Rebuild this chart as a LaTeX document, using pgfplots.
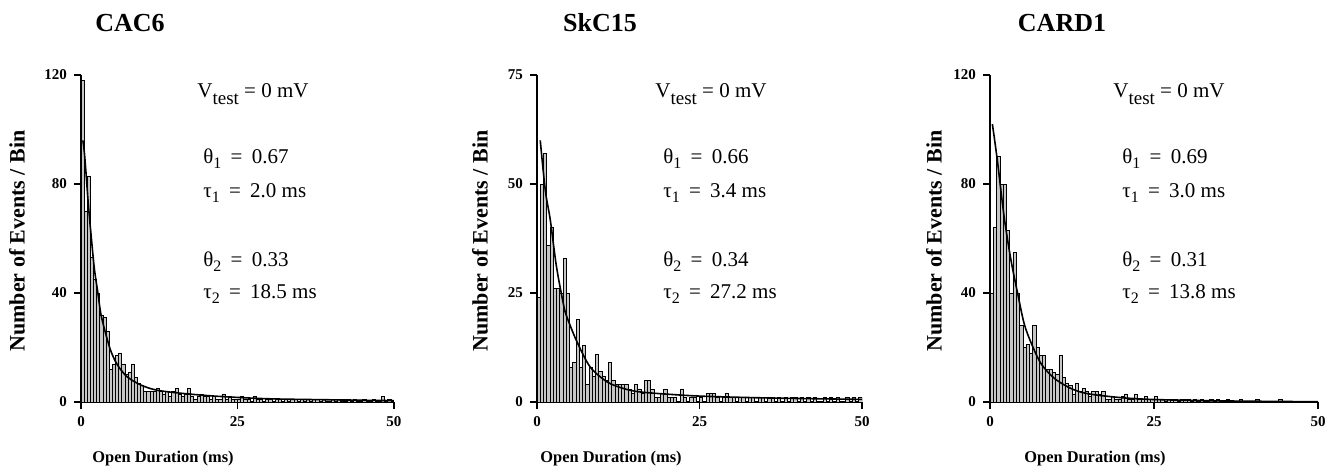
\documentclass[border=0pt]{standalone}
\usepackage{fontspec}
\setmainfont{Liberation Serif}
\usepackage{pgfplots}
\usepackage{pgfplotstable}
\pgfplotsset{compat=1.18}

\pgfplotstableread{
x a b c
0.25 118 24 40
0.75 70 50 64
1.25 83 57 90
1.75 53 36 80
2.25 45 40 80
2.75 40 26 63
3.25 32 26 40
3.75 31 25 55
4.25 26 33 40
4.75 12 25 28
5.25 14 8 20
5.75 17 9 21
6.25 18 19 18
6.75 14 8 28
7.25 10 13 20
7.75 11 4 17
8.25 14 8 17
8.75 9 6 12
9.25 7 11 12
9.75 6 7 11
10.25 4 6 10
10.75 4 5 17
11.25 4 9 9
11.75 4 5 7
12.25 5 4 6
12.75 4 4 3
13.25 3 4 7
13.75 4 4 4
14.25 2 3 5
14.75 4 2 4
15.25 5 4 2
15.75 3 3 4
16.25 2 2 4
16.75 3 5 3
17.25 5 5 4
17.75 2 3 1
18.25 1 1 1
18.75 2 1 2
19.25 3 2 1
19.75 2 3 1
20.25 2 1 2
20.75 1 1 3
21.25 2 1 1
21.75 1 0 1
22.25 1 3 3
22.75 3 1 1
23.25 1 0 1
23.75 2 1 2
24.25 1 1 1
24.75 1 0 1
25.25 1 1 2
25.75 2 0 1
26.25 1 2 1
26.75 1 2 0
27.25 0 2 1
27.75 2 1 1
28.25 1 0 1
28.75 1 1 0
29.25 0 2 1
29.75 1 1 1
30.25 1 1 1
30.75 0 0 0
31.25 1 1 1
31.75 1 1 0
32.25 0 0 1
32.75 1 1 0
33.25 0 1 0
33.75 1 0 1
34.25 1 1 0
34.75 0 1 1
35.25 1 0 0
35.75 0 1 0
36.25 1 1 1
36.75 0 0 0
37.25 1 1 0
37.75 1 0 0
38.25 0 1 1
38.75 1 0 0
39.25 0 1 0
39.75 0 1 0
40.25 1 0 0
40.75 0 1 1
41.25 1 0 0
41.75 0 1 0
42.25 0 0 0
42.75 1 1 0
43.25 0 0 0
43.75 1 0 0
44.25 0 1 1
44.75 0 0 0
45.25 1 1 0
45.75 0 0 0
46.25 0 1 0
46.75 1 0 0
47.25 0 0 0
47.75 0 1 0
48.25 2 0 0
48.75 0 1 0
49.25 1 0 0
49.75 0 1 0
}\hist

\pgfplotsset{
  hist axis/.style={
    scale only axis, anchor=south west, height=163.5pt,
    xmin=0, xmax=50, ymin=0,
    axis lines*=left, axis line style={line width=0.75pt},
    xtick={0,25,50},
    tick align=outside, major tick length=3.5pt,
    tick style={line width=0.6pt, black},
    ticklabel style={font=\fontsize{7.5}{8}\selectfont\bfseries},
    /pgf/number format/assume math mode=true,
  },
  histbars/.style={ybar, bar width=0.5, bar shift=0pt, fill=gray!45, draw=black, line width=0.3pt},
  fitcurve/.style={black, line width=0.8pt, smooth, mark=none},
}
\newcommand\sub[1]{\raisebox{-0.55ex}{\fontsize{8}{8}\selectfont #1}}
\newcommand\eq{\hspace{2pt} = \hspace{2pt}}
\newcommand\vtest{V\raisebox{-0.75ex}{\fontsize{9.5}{10}\selectfont test} = 0 mV}

\begin{document}
\begin{tikzpicture}
\useasboundingbox (0,0) rectangle (668pt,236.5pt);

% Panel 1
\begin{axis}[hist axis, at={(40.5pt,35.5pt)}, width=156.5pt, ymax=120, ytick={0,40,80,120}]
\addplot[histbars] table[x=x,y=a]{\hist};
\addplot[fitcurve] coordinates {(0.3,96) (0.6,90) (1.17,72.6) (1.6,61.5) (2.13,49) (2.66,40.6) (3.2,32) (4.0,24.6) (4.8,18.5) (5.85,13.5) (7.4,9.2) (9.6,6.2) (12.2,4.3) (16.5,3.1) (21.8,2.1) (29.8,1.2) (40,0.8) (50,0.5)};
\end{axis}

% Panel 2
\begin{axis}[hist axis, at={(268.5pt,35.5pt)}, width=162.5pt, ymax=75, ytick={0,25,50,75}]
\addplot[histbars] table[x=x,y=b]{\hist};
\addplot[fitcurve] coordinates {(0.5,60) (1.28,48.5) (2.05,41.7) (3,31) (4.1,22.2) (4.6,19.5) (6.15,13.8) (8.2,8) (10.8,4.6) (13.3,3.1) (15.9,2.3) (21,1.7) (26,1.3) (36.4,0.9) (50,0.6)};
\end{axis}

% Panel 3
\begin{axis}[hist axis, at={(495pt,35.5pt)}, width=164pt, ymax=120, ytick={0,40,80,120}]
\addplot[histbars] table[x=x,y=c]{\hist};
\addplot[fitcurve] coordinates {(0.36,102) (1.1,89) (2.15,68) (3.2,52) (4.2,40) (5.2,28.8) (6.3,21.5) (7.8,14) (9.85,8.6) (12.4,4.9) (15,3) (20,1.6) (25.2,0.9) (35.5,0.4) (50,0.1)};
\end{axis}

% Titles
\foreach \xx/\tt in {65/CAC6, 300/SkC15, 531/CARD1}
  \node[anchor=base, font=\fontsize{13}{14}\selectfont\bfseries, inner sep=0pt] at (\xx pt,221pt) {\tt};
% x labels
\foreach \xx in {81.5, 305.5, 547.5}
  \node[anchor=base, font=\fontsize{8.2}{9}\selectfont\bfseries, inner sep=0pt] at (\xx pt,5.5pt) {Open Duration (ms)};
% y labels
\foreach \xx in {8.5, 240, 467}
  \node[rotate=90, font=\fontsize{11}{12}\selectfont\bfseries, inner sep=0pt] at (\xx pt,116pt) {Number of Events / Bin};

% annotations
\begin{scope}[every node/.style={anchor=base west, inner sep=0pt, font=\fontsize{10.5}{12}\selectfont}]
\node at (98.5pt,188pt) {\vtest};
\node at (101.5pt,155pt) {θ\sub{1}\eq0.67};
\node at (101.5pt,138pt) {τ\sub{1}\eq2.0 ms};
\node at (101.5pt,103.5pt) {θ\sub{2}\eq0.33};
\node at (101.5pt,87.5pt) {τ\sub{2}\eq18.5 ms};

\node at (327.5pt,188pt) {\vtest};
\node at (331.5pt,155pt) {θ\sub{1}\eq0.66};
\node at (331.5pt,138pt) {τ\sub{1}\eq3.4 ms};
\node at (331.5pt,103.5pt) {θ\sub{2}\eq0.34};
\node at (331.5pt,87.5pt) {τ\sub{2}\eq27.2 ms};

\node at (556.5pt,188pt) {\vtest};
\node at (561pt,155pt) {θ\sub{1}\eq0.69};
\node at (561pt,138pt) {τ\sub{1}\eq3.0 ms};
\node at (561pt,103.5pt) {θ\sub{2}\eq0.31};
\node at (561pt,87.5pt) {τ\sub{2}\eq13.8 ms};
\end{scope}
\end{tikzpicture}
\end{document}
